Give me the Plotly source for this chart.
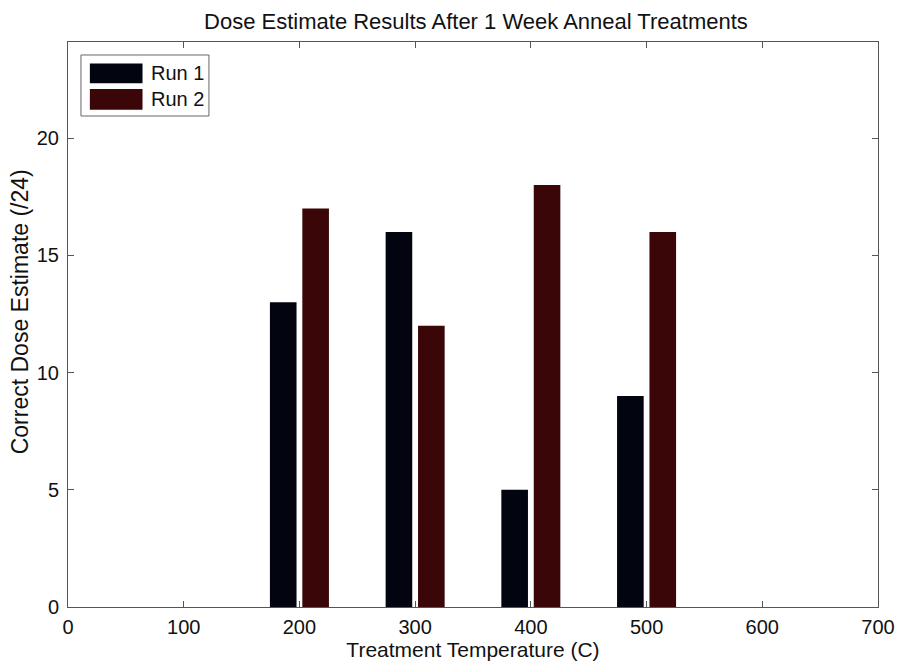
import plotly.graph_objects as go

temps = [200, 300, 400, 500]
run1 = [13, 16, 5, 9]
run2 = [17, 12, 18, 16]
series_names = ["Run 1", "Run 2"]
series_colors = ["#02040f", "#3a0608"]
x_ticks = [0, 100, 200, 300, 400, 500, 600, 700]
y_ticks = [0, 5, 10, 15, 20]

font = "Liberation Sans, Arial, sans-serif"

fig = go.Figure()
fig.add_trace(go.Bar(x=temps, y=run1, name=series_names[0], width=23, offset=-25.5,
                     marker=dict(color=series_colors[0], line=dict(width=0)),
                     showlegend=False))
fig.add_trace(go.Bar(x=temps, y=run2, name=series_names[1], width=23, offset=2.5,
                     marker=dict(color=series_colors[1], line=dict(width=0)),
                     showlegend=False))

axis_common = dict(showline=True, linecolor="#555", linewidth=1, mirror="ticks",
                   ticks="inside", ticklen=6, tickcolor="#555", showgrid=False,
                   zeroline=False, automargin=False,
                   tickfont=dict(size=20, color="#111", family=font))

# custom legend (box with wide swatches, like the original)
lx0, lx1, ly0, ly1 = 0.016, 0.174, 0.869, 0.977
shapes = [dict(type="rect", xref="paper", yref="paper", x0=lx0, x1=lx1, y0=ly0, y1=ly1,
               line=dict(color="#666", width=1), fillcolor="white", layer="above")]
annotations = []
sw_rows = [(0.962, 0.927), (0.917, 0.880)]
for (top, bot), name, col in zip(sw_rows, series_names, series_colors):
    shapes.append(dict(type="rect", xref="paper", yref="paper", x0=0.027, x1=0.092,
                       y0=bot, y1=top, fillcolor=col, line=dict(width=0), layer="above"))
    annotations.append(dict(xref="paper", yref="paper", x=0.100, y=(top + bot) / 2,
                            xanchor="left", yanchor="middle", text=name, showarrow=False,
                            font=dict(size=20, color="#111", family=font)))

# y-axis title as rotated annotation
annotations.append(dict(xref="paper", yref="paper", x=-0.059, y=0.522,
                        xanchor="center", yanchor="middle", textangle=-90,
                        text="Correct Dose Estimate (/24)", showarrow=False,
                        font=dict(size=23, color="#111", family=font)))

fig.update_layout(
    width=898, height=663,
    margin=dict(l=68, r=20, t=42, b=56),
    paper_bgcolor="white", plot_bgcolor="white",
    title=dict(text="Dose Estimate Results After 1 Week Anneal Treatments",
               x=0.53, xanchor="center", y=0.968, yanchor="middle",
               font=dict(size=22, color="#111", family=font)),
    xaxis=dict(range=[0, 700], tickvals=x_ticks, ticklabelstandoff=2, **axis_common,
               title=dict(text="Treatment Temperature (C)", standoff=2,
                          font=dict(size=21, color="#111", family=font))),
    yaxis=dict(range=[0, 24.1], tickvals=y_ticks, ticklabelstandoff=4, **axis_common),
    barmode="overlay",
    shapes=shapes,
    annotations=annotations,
)

fig.write_html("out.html")
